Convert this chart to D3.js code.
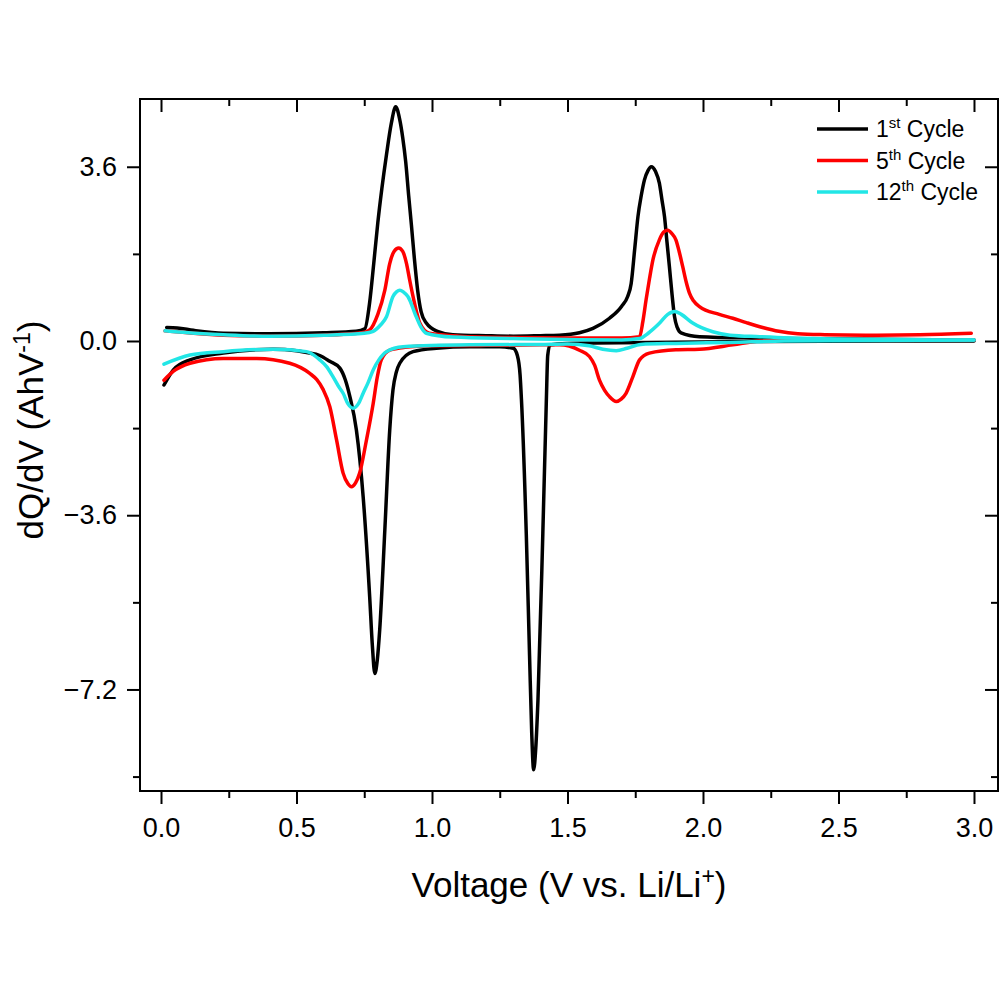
<!DOCTYPE html>
<html>
<head>
<meta charset="utf-8">
<script src="https://cdn.jsdelivr.net/npm/d3@7"></script>
<style>
  body { margin: 0; background: #fff; }
  text { font-family: Arial, "Liberation Sans", sans-serif; fill: #000; }
</style>
</head>
<body>
<div id="chart"></div>
<script>
// dQ/dV data: [voltage, dQ/dV]
// each cycle has a charge branch (positive) and a discharge branch (negative)

var cycle1Charge = [[0.021,0.28],[0.06,0.27],[0.12,0.22],[0.23,0.16],[0.4,0.15],[0.6,0.17],[0.72,0.2],[0.752,0.25],[0.77,0.8],[0.785,1.6],[0.80,2.44],[0.815,3.15],[0.832,3.85],[0.85,4.5],[0.866,4.84],[0.88,4.6],[0.892,4.2],[0.903,3.7],[0.914,3.0],[0.924,2.4],[0.935,1.7],[0.947,1.05],[0.96,0.6],[0.979,0.37],[1.02,0.2],[1.077,0.13],[1.2,0.11],[1.3,0.1],[1.4,0.11],[1.47,0.12],[1.544,0.17],[1.594,0.26],[1.655,0.47],[1.70,0.72],[1.722,0.92],[1.735,1.19],[1.748,1.9],[1.76,2.57],[1.772,3.0],[1.784,3.33],[1.797,3.52],[1.809,3.6],[1.825,3.5],[1.839,3.26],[1.849,2.9],[1.858,2.57],[1.867,2.05],[1.876,1.54],[1.886,0.95],[1.895,0.5],[1.905,0.28],[1.919,0.17],[1.987,0.09],[2.2,0.06],[2.5,0.04],[3.0,0.02]];
var cycle1Discharge = [[0.011,-0.91],[0.045,-0.6],[0.107,-0.39],[0.23,-0.25],[0.414,-0.17],[0.5,-0.2],[0.537,-0.24],[0.586,-0.3],[0.623,-0.42],[0.66,-0.56],[0.68,-0.8],[0.697,-1.15],[0.721,-1.84],[0.746,-3.22],[0.77,-5.28],[0.78,-6.3],[0.789,-6.87],[0.798,-6.6],[0.807,-5.97],[0.826,-3.9],[0.844,-1.84],[0.856,-1.01],[0.868,-0.65],[0.881,-0.46],[0.93,-0.22],[1.016,-0.15],[1.139,-0.12],[1.25,-0.12],[1.30,-0.15],[1.315,-0.3],[1.325,-0.7],[1.33,-1.2],[1.348,-4.0],[1.36,-6.5],[1.368,-8.1],[1.375,-8.86],[1.383,-8.4],[1.391,-7.42],[1.409,-3.97],[1.422,-1.22],[1.427,-0.3],[1.435,-0.08],[1.5,-0.05],[1.6,-0.04],[1.8,-0.03],[2.2,-0.01],[3.0,0.0]];

var cycle5Charge = [[0.015,0.21],[0.1,0.17],[0.23,0.12],[0.4,0.1],[0.6,0.12],[0.74,0.17],[0.77,0.23],[0.80,0.55],[0.826,1.05],[0.844,1.6],[0.86,1.85],[0.877,1.92],[0.892,1.85],[0.906,1.6],[0.918,1.25],[0.93,0.92],[0.943,0.6],[0.955,0.37],[0.99,0.16],[1.1,0.1],[1.3,0.07],[1.5,0.06],[1.7,0.06],[1.766,0.09],[1.778,0.4],[1.79,0.85],[1.803,1.3],[1.815,1.67],[1.839,2.09],[1.855,2.25],[1.87,2.29],[1.885,2.22],[1.9,2.09],[1.912,1.85],[1.925,1.54],[1.938,1.22],[1.95,0.99],[1.965,0.83],[1.987,0.71],[2.06,0.55],[2.11,0.47],[2.16,0.38],[2.22,0.28],[2.28,0.2],[2.35,0.15],[2.45,0.13],[2.6,0.12],[2.8,0.13],[2.99,0.16]];
var cycle5Discharge = [[0.011,-0.81],[0.045,-0.63],[0.107,-0.46],[0.23,-0.36],[0.353,-0.36],[0.475,-0.46],[0.549,-0.67],[0.575,-0.8],[0.598,-1.0],[0.623,-1.36],[0.648,-2.05],[0.672,-2.73],[0.69,-2.95],[0.703,-3.01],[0.718,-2.93],[0.733,-2.73],[0.758,-2.05],[0.783,-1.29],[0.798,-0.75],[0.813,-0.39],[0.844,-0.19],[0.9,-0.13],[1.0,-0.1],[1.2,-0.09],[1.4,-0.08],[1.47,-0.08],[1.544,-0.19],[1.581,-0.32],[1.60,-0.5],[1.618,-0.81],[1.637,-1.02],[1.655,-1.15],[1.68,-1.25],[1.698,-1.2],[1.716,-1.08],[1.741,-0.74],[1.766,-0.39],[1.802,-0.25],[1.9,-0.18],[1.987,-0.17],[2.11,-0.08],[2.21,0.0],[2.29,0.02],[2.6,0.02],[3.0,0.02]];

var cycle12Charge = [[0.015,0.21],[0.1,0.17],[0.23,0.13],[0.4,0.1],[0.6,0.12],[0.75,0.16],[0.783,0.2],[0.81,0.33],[0.832,0.5],[0.856,0.92],[0.87,1.02],[0.881,1.05],[0.895,1.01],[0.911,0.92],[0.942,0.5],[0.96,0.28],[0.979,0.16],[1.077,0.08],[1.3,0.05],[1.5,0.03],[1.7,0.02],[1.766,0.05],[1.80,0.17],[1.84,0.37],[1.87,0.55],[1.895,0.61],[1.92,0.55],[1.962,0.37],[2.036,0.19],[2.1,0.12],[2.21,0.09],[2.4,0.05],[2.7,0.03],[3.0,0.02]];
var cycle12Discharge = [[0.011,-0.48],[0.107,-0.29],[0.23,-0.22],[0.414,-0.17],[0.537,-0.22],[0.586,-0.39],[0.611,-0.53],[0.635,-0.74],[0.66,-0.98],[0.672,-1.08],[0.69,-1.3],[0.709,-1.39],[0.728,-1.3],[0.746,-1.08],[0.765,-0.85],[0.783,-0.6],[0.805,-0.38],[0.832,-0.22],[0.893,-0.12],[1.139,-0.08],[1.4,-0.07],[1.5,-0.06],[1.58,-0.1],[1.63,-0.17],[1.68,-0.2],[1.72,-0.15],[1.77,-0.07],[1.9,-0.05],[2.1,-0.03],[2.3,0.0],[2.6,0.01],[3.0,0.02]];

var seriesNames = ["1", "5", "12"];
var seriesSup = ["st", "th", "th"];
var seriesColors = ["#000000", "#ff0000", "#22e6e6"];

var xTicks = [0.0, 0.5, 1.0, 1.5, 2.0, 2.5, 3.0];
var xMinorTicks = [0.25, 0.75, 1.25, 1.75, 2.25, 2.75];
var yTicks = [3.6, 0.0, -3.6, -7.2];
var yMinorTicks = [1.8, -1.8, -5.4, -9.0];

var width = 858;
var height = 692;
var margin = { left: 140, right: 2, top: 99, bottom: 209 };

var svg = d3.select('#chart')
    .append('svg')
    .attr('width', 1000)
    .attr('height', 1000);

var g = svg.append('g')
    .attr("transform", "translate(" + margin.left + "," + margin.top + ")");

var x = d3.scaleLinear()
    .domain([-0.0775, 3.0886])
    .range([0, width]);
var y = d3.scaleLinear()
    .domain([-9.298, 5.0])
    .range([height, 0]);

var line = d3.line()
    .x(d => x(d[0]))
    .y(d => y(d[1]))
    .curve(d3.curveMonotoneX);

var cycles = [
    [cycle1Charge, cycle1Discharge],
    [cycle5Charge, cycle5Discharge],
    [cycle12Charge, cycle12Discharge]
];

svg.append("clipPath").attr("id", "plotclip")
    .append("rect").attr("width", width).attr("height", height);

var lineg = g.append("g").attr("clip-path", "url(#plotclip)");
cycles.forEach(function (c, i) {
    c.forEach(function (branch) {
        lineg.append("path")
            .datum(branch)
            .attr("d", line)
            .attr("fill", "none")
            .attr("stroke", seriesColors[i])
            .attr("stroke-width", 3.5)
            .attr("stroke-linejoin", "round")
            .attr("stroke-linecap", "round");
    });
});

// axes - labels on bottom/left, mirrored ticks inside on top/right
var fmt = d3.format(".1f");

function styleAxis(sel) {
    sel.select(".domain").remove();
    sel.selectAll(".tick line").attr("stroke", "#000").attr("stroke-width", 2);
    sel.selectAll(".tick text").style("font-size", "27px").attr("fill", "#000");
}

g.append("g")
    .attr("transform", "translate(0," + height + ")")
    .call(d3.axisBottom(x).tickValues(xTicks).tickFormat(fmt).tickSize(13).tickPadding(14))
    .call(styleAxis);
g.append("g")
    .attr("transform", "translate(0," + height + ")")
    .call(d3.axisBottom(x).tickValues(xMinorTicks).tickFormat("").tickSize(7))
    .call(styleAxis);
g.append("g")
    .call(d3.axisBottom(x).tickValues(xTicks).tickFormat("").tickSize(13))
    .call(styleAxis);
g.append("g")
    .call(d3.axisBottom(x).tickValues(xMinorTicks).tickFormat("").tickSize(7))
    .call(styleAxis);

g.append("g")
    .call(d3.axisLeft(y).tickValues(yTicks).tickFormat(fmt).tickSize(13).tickPadding(10))
    .call(styleAxis);
g.append("g")
    .call(d3.axisLeft(y).tickValues(yMinorTicks).tickFormat("").tickSize(7))
    .call(styleAxis);
g.append("g")
    .attr("transform", "translate(" + width + ",0)")
    .call(d3.axisRight(y).tickValues(yTicks).tickFormat("").tickSize(-13))
    .call(styleAxis);
g.append("g")
    .attr("transform", "translate(" + width + ",0)")
    .call(d3.axisRight(y).tickValues(yMinorTicks).tickFormat("").tickSize(-7))
    .call(styleAxis);

// frame
g.append("rect")
    .attr("width", width)
    .attr("height", height)
    .attr("fill", "none")
    .attr("stroke", "#000")
    .attr("stroke-width", 2);

// axis titles
var xt = svg.append("text")
    .attr("x", margin.left + width / 2)
    .attr("y", 897)
    .attr("text-anchor", "middle")
    .style("font-size", "35px");
xt.append("tspan").text("Voltage (V vs. Li/Li");
xt.append("tspan").attr("dy", -13).style("font-size", "23px").text("+");
xt.append("tspan").attr("dy", 13).text(")");

var yt = svg.append("text")
    .attr("transform", "translate(43,430) rotate(-90)")
    .attr("text-anchor", "middle")
    .style("font-size", "35px");
yt.append("tspan").text("dQ/dV (AhV");
yt.append("tspan").attr("dy", -13).style("font-size", "23px").text("-1");
yt.append("tspan").attr("dy", 13).text(")");

// legend
var legend = svg.append("g").attr("transform", "translate(817,129)");
seriesNames.forEach(function (name, i) {
    var row = legend.append("g").attr("transform", "translate(0," + (i * 31.5) + ")");
    row.append("line")
        .attr("x1", 0).attr("x2", 51)
        .attr("stroke", seriesColors[i])
        .attr("stroke-width", 3.5);
    var t = row.append("text")
        .attr("x", 59)
        .attr("y", 8)
        .style("font-size", "23px");
    t.append("tspan").text(name);
    t.append("tspan").attr("dy", -9).style("font-size", "15px").text(seriesSup[i]);
    t.append("tspan").attr("dy", 9).text(" Cycle");
});
</script>
</body>
</html>
